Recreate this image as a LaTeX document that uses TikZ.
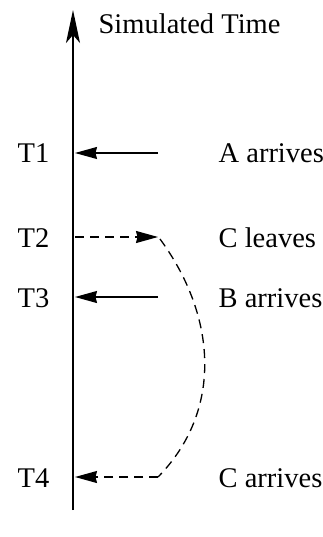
\documentclass[tikz,border=0pt]{standalone}
\usepackage{fontspec}
\setmainfont{Liberation Serif}
\usetikzlibrary{arrows.meta}

\begin{document}
\begin{tikzpicture}[x=1pt, y=-1pt, line width=1.3pt,
    >={Stealth[length=22pt, width=12pt, inset=1.5pt]},
    lbl/.style={anchor=base west, inner sep=0pt, font=\fontsize{28.5}{34}\selectfont},
    event/.style={->},
    move/.style={->, dash pattern=on 9pt off 6pt}]
  \useasboundingbox (0,0) rectangle (323,537);

  % time axis
  \coordinate (bot) at (73,510);
  \coordinate (top) at (73,10);
  \draw[-{Stealth[length=33pt, width=14pt, inset=8pt]}] (bot) -- (top);
  \node[lbl] (title) at (98,34) {Simulated Time};

  % times on the axis
  \foreach \n/\y in {1/153, 2/237, 3/297, 4/477} {
    \coordinate (ax\n) at (75,\y);
    \coordinate (ev\n) at (158,\y);
    \node[lbl] (t\n) at (17,\y+10) {T\n};
  }

  \node[lbl] (a) at (218,163) {A arrives};
  \node[lbl] (cl) at (218,247) {C leaves};
  \node[lbl] (b) at (218,307) {B arrives};
  \node[lbl] (ca) at (218,487) {C arrives};

  \draw[event] (ev1) -- (ax1);
  \draw[event] (ev3) -- (ax3);
  \draw[move] (ax2) -- (ev2);
  \draw[dash pattern=on 9pt off 6pt] (160,239) .. controls (218,318) and (222,412) .. (ev4);
  \draw[move] (ev4) -- (ax4);
\end{tikzpicture}
\end{document}
